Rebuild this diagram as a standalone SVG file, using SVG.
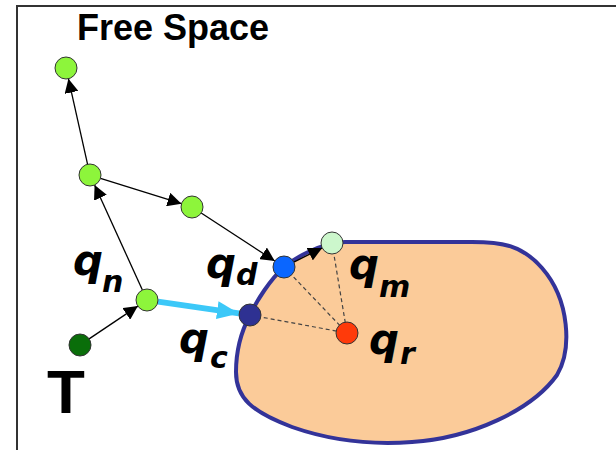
<svg xmlns="http://www.w3.org/2000/svg" width="616" height="450" viewBox="0 0 616 450">
<defs>
<style>
.lbl{font-family:"Liberation Sans",Arial,sans-serif;font-weight:bold;fill:#000}
.q{font-family:"DejaVu Sans",Verdana,sans-serif;font-weight:bold;font-style:italic;font-size:42px;fill:#000}
.sub{font-size:30px}
.edge{stroke:#000;stroke-width:1.3;fill:none;marker-end:url(#ah)}
.dash{stroke:#444;stroke-width:1.2;stroke-dasharray:4 3;fill:none}
.nd{stroke:#333;stroke-width:1}
</style>
<marker id="ah" viewBox="0 0 10 10" refX="10" refY="5" markerWidth="14" markerHeight="14" markerUnits="userSpaceOnUse" orient="auto">
<path d="M0,0 L10,5 L0,10 Z" fill="#000"/>
</marker>
<marker id="bh" viewBox="0 0 10 10" refX="10" refY="5" markerWidth="22" markerHeight="18" markerUnits="userSpaceOnUse" orient="auto" preserveAspectRatio="none">
<path d="M0,0 L10,5 L0,10 Z" fill="#3CC8F8"/>
</marker>
</defs>
<rect width="616" height="450" fill="#fff"/>
<path d="M17,450 L17,6 L616,6" fill="none" stroke="#333" stroke-width="2"/>
<text class="lbl" x="77" y="40" font-size="36">Free Space</text>
<g id="obstacle">
<path d="M250,315 C242,330 236,350 236,372 C236,398 252,412 292,427 C332,441 372,445 412,442 C472,438 532,410 557,375 C572,350 570,300 542,268 C522,245 502,242 472,242 L345,242 C320,243 295,258 284,267 C270,280 257,300 250,315 Z" fill="#FBCB99" stroke="#333399" stroke-width="4"/>
</g>
<g id="connectors">
<line class="edge" x1="89.1" y1="338.9" x2="137.9" y2="306.1"/>
<line class="edge" x1="142.4" y1="290" x2="94.6" y2="185"/>
<line class="edge" x1="87.6" y1="164.3" x2="68.4" y2="78.7"/>
<line class="edge" x1="100.5" y1="178.3" x2="181.5" y2="203.7"/>
<line class="edge" x1="201.2" y1="213" x2="274.8" y2="261"/>
<line class="edge" x1="293.8" y1="262.1" x2="322.2" y2="247.9"/>
<line x1="158" y1="301.6" x2="239" y2="313.4" stroke="#3CC8F8" stroke-width="6" marker-end="url(#bh)"/>
<line class="dash" x1="250" y1="315" x2="347" y2="333"/>
<line class="dash" x1="284" y1="267" x2="347" y2="333"/>
<line class="dash" x1="332" y1="243" x2="347" y2="333"/>
</g>
<g id="n-top"><circle class="nd" cx="66" cy="68" r="11" fill="#8DF53B"/></g>
<g id="n-mid"><circle class="nd" cx="90" cy="175" r="11" fill="#8DF53B"/></g>
<g id="n-3"><circle class="nd" cx="192" cy="207" r="11" fill="#8DF53B"/></g>
<g id="qn"><circle class="nd" cx="147" cy="300" r="11" fill="#8DF53B"/>
<text class="q" x="73" y="275">q<tspan class="sub" x="102" y="292">n</tspan></text></g>
<g id="T"><circle class="nd" cx="80" cy="345" r="11" fill="#0A6E0A"/>
<text class="lbl" x="47" y="413" font-size="62">T</text></g>
<g id="qc"><circle class="nd" cx="250" cy="315" r="11" fill="#2E3192"/>
<text class="q" x="179" y="353">q<tspan class="sub" x="210" y="368">c</tspan></text></g>
<g id="qd"><circle class="nd" cx="284" cy="267" r="11" fill="#0A66FF"/>
<text class="q" x="206" y="278">q<tspan class="sub" x="236" y="285">d</tspan></text></g>
<g id="qm"><circle class="nd" cx="332" cy="243" r="11" fill="#CCF7CC"/>
<text class="q" x="349" y="279">q<tspan class="sub" x="379" y="297">m</tspan></text></g>
<g id="qr"><circle class="nd" cx="347" cy="333" r="11" fill="#FF3A0A"/>
<text class="q" x="369" y="354">q<tspan class="sub" x="400" y="364">r</tspan></text></g>
</svg>
